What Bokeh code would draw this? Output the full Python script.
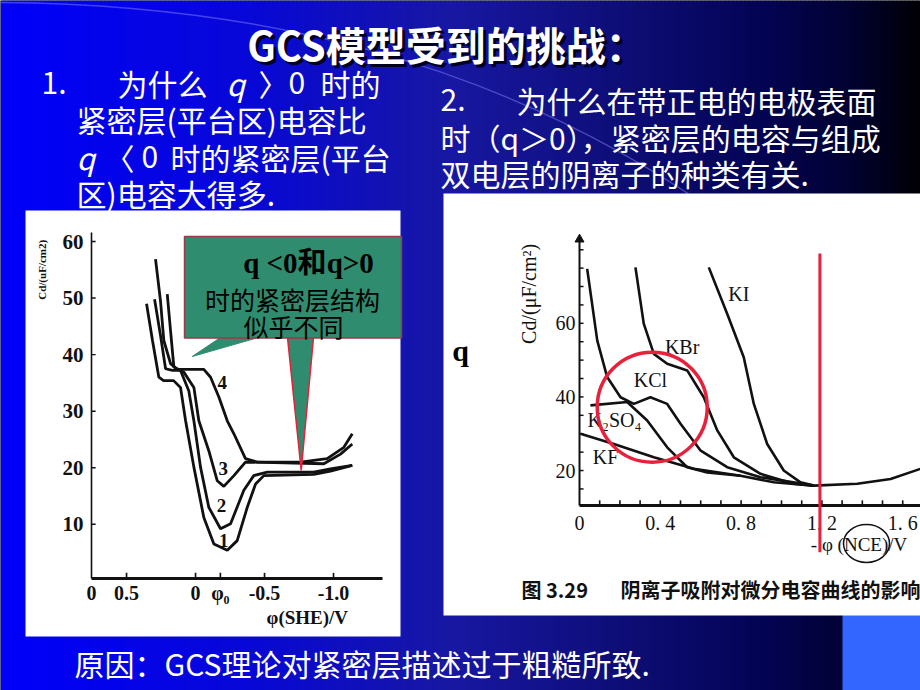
import numpy as np
from bokeh.plotting import figure
from bokeh.models import Range1d
from bokeh.core.properties import value
from bokeh.embed import file_html
from bokeh.resources import INLINE

CJK = "Noto Sans CJK SC"
SERIF = "Liberation Serif"
MIX = "Liberation Serif, Noto Sans CJK SC"

# ---------------- left chart: Cd vs phi(SHE) ----------------
left_x_ticks = [0.5, 0.0, -0.18, -0.5, -1.0]
left_x_tick_labels = ["0.5", "0", "φ₀", "-0.5", "-1.0"]
left_origin_label = "0"
left_y_ticks = [60, 50, 40, 30, 20, 10]

c1_x = [0.355, 0.312, 0.266, 0.232, 0.159, 0.109, 0.072, 0.012, -0.06, -0.133, -0.23, -0.302, -0.375, -0.435, -0.495, -0.857, -0.978, -1.136]
c1_y = [49.0, 42.5, 36.0, 35.4, 35.4, 34.2, 28.3, 20.1, 11.2, 6.5, 5.4, 7.1, 13.0, 17.1, 18.6, 18.8, 19.4, 20.4]
c2_x = [0.297, 0.254, 0.217, 0.167, 0.109, 0.049, 0.012, -0.036, -0.096, -0.181, -0.254, -0.35, -0.422, -0.52, -0.857, -0.978, -1.136]
c2_y = [49.8, 43.4, 37.5, 37.2, 37.2, 33.6, 28.3, 20.1, 13.0, 9.2, 10.1, 16.0, 18.6, 19.2, 19.2, 19.8, 20.4]
c3_x = [0.205, 0.181, 0.157, 0.085, 0.012, -0.024, -0.096, -0.157, -0.205, -0.278, -0.362, -0.93, -1.051, -1.136]
c3_y = [50.7, 44.2, 37.8, 36.9, 34.2, 28.3, 23.0, 17.7, 16.7, 18.6, 21.0, 20.7, 22.4, 24.2]
c4_x = [0.29, 0.254, 0.23, 0.181, 0.133, -0.06, -0.109, -0.169, -0.23, -0.278, -0.362, -0.447, -0.761, -0.954, -1.075, -1.136]
c4_y = [56.9, 49.5, 42.5, 38.4, 37.4, 37.4, 36.0, 32.5, 28.3, 26.0, 21.6, 21.0, 21.0, 21.6, 23.6, 26.0]
curve_labels = ["1", "2", "3", "4"]
curve_label_x = [-0.205, -0.188, -0.2, -0.193]
curve_label_y = [7.1, 13.3, 19.8, 35.1]

# ---------------- right chart: Cd vs phi(NCE) ----------------
right_x_ticks = [round(0.1 * i, 1) for i in range(1, 17)]
right_x_label_vals = [0.0, 0.4, 0.8, 1.2, 1.6]
right_x_labels = ["0", "0. 4", "0. 8", "1. 2", "1. 6"]
right_y_ticks = list(range(80, 10, -5))
right_y_label_vals = [20, 40, 60]

kf_x = [0.005, 0.17, 0.368, 0.566, 0.797, 0.962, 1.16, 1.375, 1.54, 1.69]
kf_y = [30.0, 27.2, 23.6, 20.5, 18.6, 16.8, 15.9, 16.4, 17.7, 20.5]
k2so4_x = [0.054, 0.236, 0.335, 0.434, 0.533, 0.632, 0.797]
k2so4_y = [37.7, 38.6, 33.6, 26.3, 20.9, 19.5, 18.6]
kcl_x = [0.038, 0.088, 0.137, 0.203, 0.269, 0.351, 0.434, 0.5, 0.6, 0.731, 0.896, 1.16]
kcl_y = [74.8, 55.3, 45.4, 39.9, 38.1, 39.9, 38.1, 32.7, 25.4, 20.9, 18.2, 15.9]
kbr_x = [0.277, 0.318, 0.368, 0.434, 0.533, 0.615, 0.682, 0.764, 0.896, 1.061, 1.16]
kbr_y = [75.2, 59.9, 51.7, 49.0, 47.2, 39.9, 30.9, 23.6, 19.1, 16.4, 15.9]
ki_x = [0.64, 0.731, 0.813, 0.863, 0.929, 1.011, 1.094, 1.16]
ki_y = [75.2, 62.6, 50.8, 38.1, 27.2, 20.0, 16.8, 15.9]
salt_labels = ["KI", "KBr", "KCl", "K₂SO₄", "KF"]
salt_label_x = [0.789, 0.508, 0.351, 0.173, 0.129]
salt_label_y = [68.0, 53.5, 44.5, 33.6, 23.6]
marker_phi = 1.19
circle_x, circle_y = 0.36, 37.2

# ---------------- page (parent coordinates: pixels, y measured up from bottom) ----------------
W, H = 920, 690
def T(v):
    """convert a top-down pixel position into the page's y coordinate"""
    if isinstance(v, (list, tuple, np.ndarray)):
        return [H - t for t in v]
    return H - v

def span(v0, p0, v1, p1, lo, hi):
    """data range whose values v0, v1 land on page positions p0, p1"""
    s = (v1 - v0) / (p1 - p0)
    return Range1d(v0 + (lo - p0) * s, v0 + (hi - p0) * s)

p = figure(width=W, height=H, x_range=Range1d(0, W), y_range=Range1d(0, H),
           output_backend="svg", toolbar_location=None,
           x_axis_location=None, y_axis_location=None, min_border=0,
           outline_line_color=None)
p.xgrid.visible = False
p.ygrid.visible = False
p.background_fill_color = "#000000"
p.border_fill_color = "#000000"

# chart boxes (page px): left x 91..382, y 578..232 ; right x 579..920, y 505..233
L_BOX = dict(x0=0.754, px0=91, x1=-1.355, px1=382, y0=0.4, py0=578, y1=61.6, py1=232)
R_BOX = dict(x0=0.0, px0=579, x1=1.688, px1=920, y0=10.5, py0=505, y1=84.4, py1=233)
p.extra_x_ranges = {"lx": span(L_BOX["x0"], L_BOX["px0"], L_BOX["x1"], L_BOX["px1"], 0, W),
                    "rx": span(R_BOX["x0"], R_BOX["px0"], R_BOX["x1"], R_BOX["px1"], 0, W)}
p.extra_y_ranges = {"ly": span(L_BOX["y0"], T(L_BOX["py0"]), L_BOX["y1"], T(L_BOX["py1"]), 0, H),
                    "ry": span(R_BOX["y0"], T(R_BOX["py0"]), R_BOX["y1"], T(R_BOX["py1"]), 0, H)}
LK = dict(x_range_name="lx", y_range_name="ly")
RK = dict(x_range_name="rx", y_range_name="ry")

# background gradient (style)
gx = np.arange(0, 920, 4)
sx = [0, 250, 450, 620, 760, 850, 920]
sr = [0, 8, 24, 14, 4, 2, 0]
sb = [250, 215, 162, 120, 85, 50, 5]
rr = np.interp(gx + 2, sx, sr).astype(int)
bb = np.interp(gx + 2, sx, sb).astype(int)
cols = ["#%02x%02x%02x" % (r, r, b) for r, b in zip(rr, bb)]
p.quad(left=gx, right=gx + 5, top=690, bottom=0, fill_color=cols, line_color=None)

# decorative swoosh
p.bezier(x0=[0], y0=[T(2)], x1=[720], y1=[T(215)], cx0=[260], cy0=[T(4)], cx1=[500], cy1=[T(60)],
         line_color="#8c8cff", line_alpha=0.45, line_width=1.5)

# bottom-right accent block
p.quad(left=842, right=920, top=T(596), bottom=0, fill_color="#3366ff", line_color=None)

# title
title = "GCS模型受到的挑战："
p.text(x=[449], y=[T(46)], text=[title], text_align="center", text_baseline="middle",
       text_font=value(CJK), text_font_style="bold", text_font_size="40px", text_color="#000022")
p.text(x=[446], y=[T(43)], text=[title], text_align="center", text_baseline="middle",
       text_font=value(CJK), text_font_style="bold", text_font_size="40px", text_color="white")

def wtext(xs, ys, ts, size="30px", style="normal"):
    p.text(x=xs, y=T(ys), text=ts, text_align="left", text_baseline="middle",
           text_font=value(CJK), text_font_size=size, text_font_style=style, text_color="white")

# left question text
wtext([41, 117, 258, 288, 320], [82] * 5, ["1.", "为什么", "〉", "0", "时的"])
wtext([226], [82], ["q"], style="italic")
wtext([76], [118], ["紧密层(平台区)电容比"])
wtext([76], [156], ["q"], style="italic")
wtext([104, 141, 170], [156] * 3, ["〈", "0", "时的紧密层(平台"])
wtext([76], [192], ["区)电容大得多."])

# right question text
wtext([440, 516], [99, 99], ["2.", "为什么在带正电的电极表面"])
wtext([440], [136], ["时（q＞0），紧密层的电容与组成"])
wtext([440], [172], ["双电层的阴离子的种类有关."])

# bottom line
wtext([74], [662], ["原因：GCS理论对紧密层描述过于粗糙所致."])

# white image panels
p.quad(left=25, right=400, top=T(210), bottom=T(636), fill_color="white", line_color=None)
p.quad(left=443, right=920, top=T(193), bottom=T(615), fill_color="white", line_color=None)

K = "#111111"

# ---------------- left chart: labels and curves ----------------
p.text(x=[0.754] * 6, y=left_y_ticks, text=[str(v) for v in left_y_ticks], x_offset=-8,
       text_align="right", text_baseline="middle", text_font=value(SERIF),
       text_font_style="bold", text_font_size="21px", text_color=K, **LK)
p.text(x=[0.754] + left_x_ticks, y=[0.4] * 6, text=[left_origin_label] + left_x_tick_labels,
       y_offset=14, text_align="center", text_baseline="middle", text_font=value(SERIF),
       text_font_style="bold", text_font_size="20px", text_color=K, **LK)
p.text(x=curve_label_x, y=curve_label_y, text=curve_labels, text_align="center",
       text_baseline="middle", text_font=value(SERIF), text_font_style="bold",
       text_font_size="19px", text_color=K, **LK)
p.text(x=[-0.81], y=[0.4], text=["φ(SHE)/V"], y_offset=39, text_align="center",
       text_baseline="middle", text_font=value(SERIF), text_font_style="bold",
       text_font_size="19px", text_color=K, **LK)
p.text(x=[0.754], y=[55.0], text=["Cd/(uF/cm2)"], x_offset=-50, angle=np.pi / 2,
       text_align="center", text_baseline="middle", text_font=value(SERIF),
       text_font_style="bold", text_font_size="11px", text_color=K, **LK)
for cx, cy in [(c1_x, c1_y), (c2_x, c2_y), (c3_x, c3_y), (c4_x, c4_y)]:
    p.line(x=cx, y=cy, line_color=K, line_width=2.8, **LK)

# callout (style)
GREEN = "#2f8c6e"
p.patch(x=[191.7, 220, 258], y=T([356, 337, 337]), fill_color=GREEN, line_color=GREEN)
p.patch(x=[287, 300.7, 313], y=T([337, 470, 337]), fill_color=GREEN, line_color="#e8203a", line_width=1.5)
p.quad(left=184, right=401, top=T(236), bottom=T(337.5), fill_color=GREEN, line_color="#9c3a4a", line_width=1.5)
p.text(x=[308], y=[T(262)], text=["q <0和q>0"], text_align="center", text_baseline="middle",
       text_font=value(MIX), text_font_style="bold", text_font_size="29px", text_color="black")
p.text(x=[292, 293], y=T([298, 325]), text=["时的紧密层结构", "似乎不同"], text_align="center",
       text_baseline="middle", text_font=value(CJK), text_font_size="25px", text_color="black")

# ---------------- right chart: labels and curves ----------------
p.text(x=[0] * 3, y=right_y_label_vals, text=[str(v) for v in right_y_label_vals], x_offset=-4,
       text_align="right", text_baseline="middle", text_font=value(SERIF),
       text_font_size="20px", text_color=K, **RK)
p.text(x=right_x_label_vals, y=[10.5] * 5, text=right_x_labels, y_offset=17, text_align="center",
       text_baseline="middle", text_font=value(SERIF), text_font_size="20px", text_color=K, **RK)
p.text(x=salt_label_x, y=salt_label_y, text=salt_labels, text_align="center",
       text_baseline="middle", text_font=value(SERIF), text_font_size="20px", text_color=K, **RK)
p.text(x=[0], y=[68.0], text=["Cd/(μF/cm²)"], x_offset=-51, angle=np.pi / 2,
       text_align="center", text_baseline="middle", text_font=value(SERIF),
       text_font_size="20px", text_color=K, **RK)
p.text(x=[1.145], y=[10.5], text=["- φ (NCE)/V"], y_offset=39, text_align="left",
       text_baseline="middle", text_font=value(SERIF), text_font_size="19px", text_color=K, **RK)
for cx, cy in [(kf_x, kf_y), (k2so4_x, k2so4_y), (kcl_x, kcl_y), (kbr_x, kbr_y), (ki_x, ki_y)]:
    p.line(x=cx, y=cy, line_color=K, line_width=2.6, **RK)

p.ellipse(x=[866], y=[T(543)], width=[46], height=[38], fill_alpha=0, line_color=K, line_width=1.5)
p.text(x=[460], y=[T(350)], text=["q"], text_align="center", text_baseline="middle",
       text_font=value(SERIF), text_font_style="bold", text_font_size="30px", text_color="black")
p.text(x=[521, 620], y=T([589, 589]), text=["图 3.29", "阴离子吸附对微分电容曲线的影响"],
       text_align="left", text_baseline="middle", text_font=value(CJK),
       text_font_style="bold", text_font_size="20px", text_color=K)

# ---------------- axes and ticks, through each chart's ranges ----------------
# y axes as lines
p.line(x=[0.754, 0.754], y=[0.4, 61.6], line_color=K, line_width=1.6, **LK)
p.line(x=[0.0, 0.0], y=[10.5, 82.5], line_color=K, line_width=2, **RK)
p.scatter(x=[0], y=[82.8], marker="triangle", size=9, fill_color=K, line_color=K, **RK)

# x axes and all ticks as thin filled bars (half-thickness in each chart's units)
lh, rh = 0.27, 0.4
p.quad(left=[-1.355], right=[0.754], bottom=[0.4 - lh], top=[0.4 + lh],
       fill_color=K, line_color=None, **LK)
p.quad(left=[t - 0.006 for t in left_x_ticks], right=[t + 0.006 for t in left_x_ticks],
       bottom=[0.4] * 5, top=[1.4] * 5, fill_color=K, line_color=None, **LK)
p.quad(left=[0.754 - 0.03] * 6, right=[0.754] * 6, bottom=[v - 0.13 for v in left_y_ticks],
       top=[v + 0.13 for v in left_y_ticks], fill_color=K, line_color=None, **LK)

p.quad(left=[0.0], right=[1.688], bottom=[10.5 - rh], top=[10.5 + rh],
       fill_color=K, line_color=None, **RK)
p.quad(left=[t - 0.004 for t in right_x_ticks], right=[t + 0.004 for t in right_x_ticks],
       bottom=[10.5] * 16, top=[11.9] * 16, fill_color=K, line_color=None, **RK)
p.quad(left=[0.0] * len(right_y_ticks), right=[0.02] * len(right_y_ticks),
       bottom=[v - 0.2 for v in right_y_ticks], top=[v + 0.2 for v in right_y_ticks],
       fill_color=K, line_color=None, **RK)

p.segment(x0=[marker_phi], x1=[marker_phi], y0=[79.0], y1=[-2.2], line_color="#e8203a",
          line_width=3, **RK)
p.scatter(x=[circle_x], y=[circle_y], marker="circle", size=110, fill_alpha=0,
          line_color="#e8203a", line_width=3.5, **RK)

open("out.html", "w").write(file_html(p, INLINE))
